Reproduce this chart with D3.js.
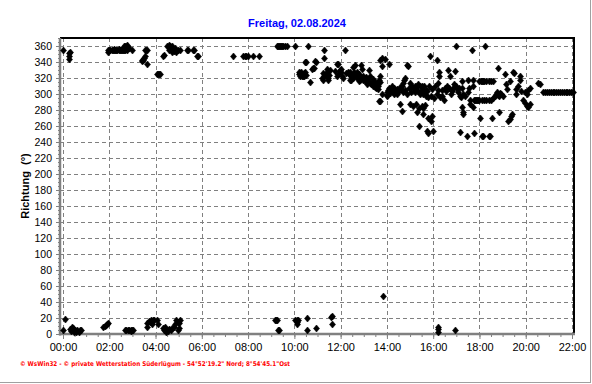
<!DOCTYPE html>
<html><head><meta charset="utf-8">
<script src="https://cdn.jsdelivr.net/npm/d3@7"></script>
<style>html,body{margin:0;padding:0;background:#fff;} svg{display:block;}</style>
</head><body>
<svg id="c" width="592" height="384"></svg>
<script>
const title = "Freitag, 02.08.2024";
const yTitle = "Richtung  (°)";
const footer = "© WsWin32  -  © private Wetterstation Süderlügum  -  54°52'19.2\" Nord; 8°54'45.1\"Ost";
const xTickHours = [0,2,4,6,8,10,12,14,16,18,20,22];
const xTickLabels = ["00:00","02:00","04:00","06:00","08:00","10:00","12:00","14:00","16:00","18:00","20:00","22:00"];
const yTicks = [0,20,40,60,80,100,120,140,160,180,200,220,240,260,280,300,320,340,360];

// time of day in hours, wind direction in degrees (parallel arrays)
const times = [
 0.01,0.27,0.25,0.24,0.29,
 0.09,0.01,0.38,0.32,0.36,0.42,0.47,0.52,0.57,0.62,0.67,0.72,0.78,0.45,0.55,
 1.74,1.8,1.85,1.9,1.96,1.93,1.95,
 2.0,2.05,2.1,2.15,2.2,2.25,2.3,2.35,2.4,2.45,2.5,2.55,2.6,2.65,2.7,2.75,2.2,2.4,
 2.6,2.65,2.7,2.75,2.8,2.72,2.68,2.85,2.78,2.98,
 2.68,2.74,2.8,2.86,2.92,2.98,3.04,2.95,
 3.4,3.45,3.5,3.55,3.43,3.57,3.62,3.55,3.62,
 3.62,3.65,3.7,3.75,3.8,3.83,3.9,3.95,4.05,4.12,
 4.08,4.12,4.17,4.2,4.33,4.36,
 4.5,4.58,4.62,4.7,4.66,4.75,4.6,4.8,4.85,4.9,4.72,4.95,4.82,
 5.05,5.35,5.4,5.6,5.67,5.78,5.82,
 4.33,4.38,4.42,4.46,4.5,4.55,4.6,4.65,4.7,4.42,
 4.78,4.85,4.9,4.95,5.06,5.0,4.97,5.02,
 7.36,7.78,7.85,7.92,8.0,8.22,8.47,
 9.23,9.28,9.33,9.38,9.43,9.48,9.53,9.6,9.67,10.03,10.6,
 9.16,9.23,9.2,9.3,9.33,10.03,10.1,10.13,10.17,10.1,10.53,10.53,10.92,11.61,11.58,11.61,
 13.84,16.22,16.22,16.22,16.94,
 10.46,10.5,10.93,10.9,10.2,10.24,10.28,10.32,10.38,10.42,10.5,10.45,10.67,10.82,10.86,10.78,
 10.22,10.3,10.35,10.4,10.26,
 11.18,11.22,11.3,11.35,11.4,11.45,11.5,11.47,11.25,11.4,11.29,11.29,11.54,
 11.75,11.83,11.87,11.85,11.9,11.97,12.0,12.05,12.1,12.02,12.19,
 12.3,12.35,12.4,12.4,12.43,12.5,12.53,12.55,12.6,12.62,12.7,12.75,12.8,12.83,12.88,12.91,
 12.95,13.0,13.05,13.1,13.12,13.2,13.22,13.27,13.3,13.35,13.4,13.45,13.5,13.53,13.6,13.65,
 12.25,12.45,12.65,12.72,12.85,12.98,13.08,13.15,13.25,13.38,13.42,13.48,13.56,13.62,12.58,12.78,
 13.7,13.7,13.66,13.7,13.77,13.7,13.8,13.9,13.77,13.99,14.1,
 14.0,14.05,14.1,14.15,14.2,14.25,14.3,14.35,14.42,14.5,14.56,14.6,14.64,14.64,14.7,14.75,14.78,14.88,14.9,
 14.02,14.12,14.22,14.32,14.45,14.55,14.68,14.8,14.85,14.95,15.05,15.15,15.22,15.42,15.52,15.62,15.68,
 15.0,15.0,15.1,15.13,15.2,15.25,15.28,15.3,15.35,15.35,15.4,15.4,15.45,15.5,15.5,15.55,15.57,15.57,
 15.6,15.64,15.7,15.72,15.72,15.76,15.77,15.77,15.8,15.86,15.9,15.95,16.0,15.9,15.95,
 16.05,16.1,16.15,16.15,16.2,16.22,16.26,16.26,16.3,16.36,16.4,16.45,16.5,16.55,16.65,16.7,16.72,16.8,16.87,16.94,16.97,
 16.6,16.75,16.9,17.08,17.25,
 17.0,17.05,17.1,17.15,17.16,17.2,17.23,17.23,17.27,17.3,17.3,17.37,17.45,17.5,17.52,17.55,17.6,17.6,17.66,
 17.7,17.7,17.73,17.75,17.78,17.8,17.85,17.9,17.95,
 18.02,18.0,18.05,18.1,18.15,18.2,18.3,18.4,18.5,18.6,
 18.0,18.1,18.2,18.3,18.4,18.5,18.6,18.1,18.16,18.24,18.4,18.45,18.53,
 18.67,18.7,18.75,18.8,18.85,18.9,18.95,19.0,18.81,18.85,
 19.1,19.15,19.2,19.24,19.3,19.35,19.4,19.32,19.46,19.5,19.6,19.6,19.65,19.75,19.75,19.8,19.9,
 19.97,20.04,20.1,20.18,20.18,19.95,20.05,20.1,20.54,20.6,20.76,
 20.84,20.92,21.0,21.08,21.16,21.24,21.32,21.4,21.48,21.56,21.64,21.72,21.8,21.88,21.96,22.04
];
const dirs = [
 355,351,348,344,352,
 19,5,9,6,4,5,3,5,4,5,3,5,5,7,2,
 9,10,11,13,14,352,355,
 355,355,355,355,355,355,355,355,355,355,355,355,355,355,355,355,356,356,
 358,360,360,360,358,357,356,357,361,355,
 5,5,5,5,5,5,5,4,
 341,343,345,347,342,355,355,355,337,
 9,14,16,15,17,12,18,17,18,12,
 325,325,325,325,347,349,
 360,361,360,360,358,356,355,354,355,353,352,355,357,
 355,355,355,355,355,348,348,
 8,5,7,3,5,4,6,5,8,9,
 9,12,17,15,17,14,5,8,
 348,348,348,348,348,348,348,
 360,360,360,360,360,360,360,360,360,360,360,
 17,17,18,5,5,17,15,12,17,18,20,5,8,22,21,12,
 47,3,6,9,5,
 340,340,340,341,328,326,324,322,322,323,324,327,315,332,333,331,
 325,327,325,326,322,
 320,318,322,325,328,320,324,317,326,331,355,345,330,
 329,337,338,322,325,330,327,323,320,331,355,
 328,325,328,318,317,323,320,334,324,336,322,320,325,321,336,331,
 318,320,316,318,313,316,330,322,312,315,310,316,313,307,310,318,
 326,322,321,327,318,323,321,319,314,319,313,309,314,306,328,316,
 322,315,291,291,300,343,345,344,335,297,337,
 302,305,308,304,306,302,308,305,300,303,287,306,279,310,314,318,320,336,335,
 299,301,310,300,306,309,302,305,300,308,303,306,302,300,310,302,298,
 314,287,310,285,310,287,277,310,304,312,260,283,310,285,305,300,275,282,
 310,286,305,304,254,296,270,251,310,347,266,272,254,298,306,
 295,310,343,300,314,305,323,327,296,297,305,293,307,304,330,308,322,304,307,329,360,
 310,300,312,302,308,
 310,306,308,298,252,296,316,284,278,275,300,297,248,302,317,307,293,288,355,
 310,284,318,293,251,293,293,293,293,
 270,316,316,316,316,316,316,316,316,316,
 293,293,293,293,293,293,295,248,248,360,248,248,270,
 297,300,302,299,298,301,300,298,332,278,
 325,312,306,266,269,272,275,316,327,326,306,300,310,322,318,304,293,
 289,285,284,287,308,302,300,305,314,313,302,
 302,302,302,302,302,302,302,302,302,302,302,302,302,302,302,302
];

const svg = d3.select("#c");
const W = 592, H = 384;
svg.append("rect").attr("width", W).attr("height", H).attr("fill", "#fff");
// outer frame (right & bottom)
svg.append("line").attr("x1",590.5).attr("x2",590.5).attr("y1",0).attr("y2",383).attr("stroke","#a0a0a0");
svg.append("line").attr("x1",0).attr("x2",591).attr("y1",382.5).attr("y2",382.5).attr("stroke","#a0a0a0");

const L = 60, R = 574, T = 38, B = 334;
const x = d3.scaleLinear().domain([0,22]).range([63,572]);
const y = d3.scaleLinear().domain([0,360]).range([B,46]);

// grid
const g = svg.append("g");
g.selectAll(".hg").data(yTicks.filter(v=>v>0)).join("line")
  .attr("x1",L).attr("x2",R).attr("y1",d=>Math.round(y(d))+0.5).attr("y2",d=>Math.round(y(d))+0.5)
  .attr("stroke","#808080").attr("stroke-dasharray","4,3");
g.selectAll(".vg").data(xTickHours).join("line")
  .attr("x1",d=>Math.round(x(d))+0.5).attr("x2",d=>Math.round(x(d))+0.5).attr("y1",T).attr("y2",B)
  .attr("stroke","#808080").attr("stroke-dasharray","4,3");

// borders
svg.append("line").attr("x1",L).attr("x2",R+1).attr("y1",38).attr("y2",38).attr("stroke","#000").attr("stroke-width",2);
svg.append("line").attr("x1",574).attr("x2",574).attr("y1",T).attr("y2",B).attr("stroke","#000").attr("stroke-width",2);

// axes
const yAxis = d3.axisLeft(y).tickValues(yTicks).tickSize(4).tickPadding(4).tickFormat(d3.format("d"));
const ya = svg.append("g").attr("transform",`translate(${L},0)`).call(yAxis);
ya.select(".domain").remove();
ya.selectAll("line").attr("stroke","#808080");
ya.selectAll("text").attr("font-family","'Liberation Sans', Arial, sans-serif").attr("font-size",10.5).attr("fill","#000");
const yMinor = d3.axisLeft(y).tickValues(d3.range(0,371,5)).tickSize(2).tickFormat("");
const ym = svg.append("g").attr("transform",`translate(${L},0)`).call(yMinor);
ym.select(".domain").remove(); ym.selectAll("line").attr("stroke","#808080");

const xAxis = d3.axisBottom(x).tickValues(xTickHours).tickSize(5).tickPadding(4).tickFormat((d,i)=>xTickLabels[i]);
const xa = svg.append("g").attr("transform",`translate(0,${B})`).call(xAxis);
xa.select(".domain").remove();
xa.selectAll("line").attr("stroke","#808080");
xa.selectAll("text").attr("font-family","'Liberation Sans', Arial, sans-serif").attr("font-size",11).attr("fill","#000");
const xMinor = d3.axisBottom(x).tickValues(d3.range(0,22.01,0.5)).tickSize(3).tickFormat("");
const xm = svg.append("g").attr("transform",`translate(0,${B})`).call(xMinor);
xm.select(".domain").remove(); xm.selectAll("line").attr("stroke","#808080");

svg.append("line").attr("x1",L).attr("x2",L).attr("y1",T).attr("y2",B+1.5).attr("stroke","#808080").attr("stroke-width",2.5);
svg.append("line").attr("x1",L-1).attr("x2",R+1).attr("y1",B).attr("y2",B).attr("stroke","#808080").attr("stroke-width",2.5);

// points
const data = times.map((t,i)=>({t, v: dirs[i]}));
svg.append("g").selectAll("path").data(data).join("path")
  .attr("transform",d=>`translate(${Math.round(x(d.t))+0.5},${Math.round(y(d.v))+0.5})`)
  .attr("d","M0,-3.5L3,0L0,3.5L-3,0Z")
  .attr("fill","#000").attr("stroke","#000").attr("stroke-width",0.6);

// title
svg.append("text").attr("x",297).attr("y",27).attr("text-anchor","middle")
  .attr("font-family","'Liberation Sans', Arial, sans-serif").attr("font-weight","bold").attr("font-size",11)
  .attr("fill","#0000ff").text(title);
// y title
svg.append("text").attr("transform","translate(29,186) rotate(-90)").attr("text-anchor","middle")
  .attr("font-family","'Liberation Sans', Arial, sans-serif").attr("font-weight","bold").attr("font-size",11)
  .attr("fill","#000").attr("xml:space","preserve").text(yTitle);
// footer
svg.append("text").attr("x",20).attr("y",366)
  .attr("font-family","'DejaVu Sans', sans-serif").attr("font-weight","bold").attr("font-size",6.5)
  .attr("fill","#ff0000").attr("textLength",270).attr("lengthAdjust","spacingAndGlyphs").text(footer);
</script>
</body></html>
